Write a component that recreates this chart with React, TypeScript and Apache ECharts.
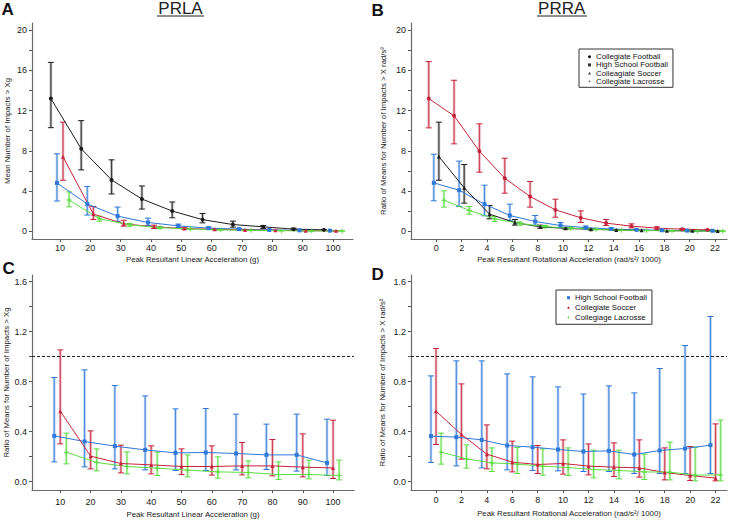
import React, { useEffect, useRef } from 'react';
import * as echarts from 'echarts';

// ---------- categories / tick labels ----------
const LINEAR_X = [10, 20, 30, 40, 50, 60, 70, 80, 90, 100];
const ROT_X = [0, 2, 4, 6, 8, 10, 12, 14, 16, 18, 20, 22];
const COUNT_Y_TICKS = [0, 4, 8, 12, 16, 20];
const COUNT_Y_MINOR = [2, 6, 10, 14, 18];
const RATIO_Y_TICKS = [0, 0.4, 0.8, 1.2, 1.6];
const RATIO_Y_MINOR = [0.2, 0.6, 1.0, 1.4];

// ---------- Panel A (PRLA, mean number of impacts > Xg) ----------
const A_CF_MEAN = [13.2, 8.2, 5.1, 3.2, 2.0, 1.15, 0.66, 0.43, 0.2, 0.13];
const A_CF_LO = [10.3, 6.1, 3.7, 2.2, 1.33, 0.83, 0.4, 0.27, 0.13, 0.09];
const A_CF_HI = [16.8, 11.0, 7.1, 4.5, 2.9, 1.76, 1.0, 0.56, 0.3, 0.18];

const A_HS_MEAN = [4.8, 2.7, 1.5, 0.86, 0.53, 0.3, 0.2, 0.12, 0.08, 0.05];
const A_HS_LO = [3.0, 1.6, 0.96, 0.56, 0.36, 0.2, 0.13, 0.08, 0.05, 0.03];
const A_HS_HI = [7.7, 4.45, 2.4, 1.3, 0.7, 0.42, 0.28, 0.17, 0.11, 0.07];

const A_CS_MEAN = [7.4, 1.7, 0.73, 0.43, 0.27, 0.18, 0.12, 0.08, 0.05, 0.03];
const A_CS_LO = [5.07, 1.16, 0.5, 0.27, 0.18, 0.12, 0.08, 0.05, 0.03, 0.02];
const A_CS_HI = [10.85, 2.45, 1.09, 0.6, 0.38, 0.25, 0.17, 0.11, 0.07, 0.05];

const A_CL_MEAN = [3.1, 1.23, 0.63, 0.35, 0.22, 0.13, 0.09, 0.05, 0.03, 0.02];
const A_CL_LO = [2.42, 1.0, 0.5, 0.27, 0.17, 0.1, 0.06, 0.03, 0.02, 0.01];
const A_CL_HI = [3.91, 1.49, 0.76, 0.44, 0.28, 0.17, 0.12, 0.07, 0.05, 0.03];

// ---------- Panel B (PRRA) ----------
const B_CF_MEAN = [13.2, 11.48, 7.96, 5.27, 3.45, 2.12, 1.33, 0.8, 0.5, 0.3, 0.2, 0.13];
const B_CF_LO = [10.28, 8.69, 5.87, 3.78, 2.39, 1.39, 0.86, 0.56, 0.33, 0.2, 0.15, 0.09];
const B_CF_HI = [16.88, 15.02, 10.68, 7.26, 4.94, 3.18, 2.02, 1.16, 0.73, 0.43, 0.25, 0.17];

const B_HS_MEAN = [4.81, 4.08, 2.69, 1.56, 0.96, 0.56, 0.35, 0.22, 0.13, 0.09, 0.05, 0.04];
const B_HS_LO = [3.02, 2.45, 1.53, 1.03, 0.6, 0.36, 0.22, 0.14, 0.08, 0.06, 0.03, 0.02];
const B_HS_HI = [7.66, 6.97, 4.58, 2.69, 1.56, 0.86, 0.5, 0.32, 0.19, 0.13, 0.08, 0.06];

const B_CS_MEAN = [7.43, 4.31, 1.69, 0.86, 0.42, 0.28, 0.18, 0.12, 0.08, 0.05, 0.03, 0.02];
const B_CS_LO = [5.07, 2.79, 1.23, 0.6, 0.3, 0.2, 0.12, 0.08, 0.05, 0.03, 0.02, 0.01];
const B_CS_HI = [10.85, 6.63, 2.55, 1.16, 0.6, 0.38, 0.25, 0.16, 0.11, 0.07, 0.05, 0.03];

const B_CL_MEAN = [3.08, 2.06, 1.23, 0.76, 0.45, 0.3, 0.18, 0.1, 0.06, 0.04, 0.02, 0.01];
const B_CL_LO = [2.39, 1.69, 0.96, 0.6, 0.35, 0.22, 0.13, 0.07, 0.04, 0.02, 0.01, 0.0];
const B_CL_HI = [4.01, 2.45, 1.46, 0.9, 0.56, 0.38, 0.23, 0.13, 0.08, 0.06, 0.03, 0.02];

// ---------- Panel C (ratio of means, linear) ----------
const C_HS_MEAN = [0.365, 0.32, 0.283, 0.253, 0.229, 0.232, 0.224, 0.213, 0.213, 0.149];
const C_HS_LO = [0.157, 0.117, 0.101, 0.093, 0.088, 0.088, 0.093, 0.096, 0.083, 0.048];
const C_HS_HI = [0.832, 0.893, 0.768, 0.685, 0.581, 0.584, 0.539, 0.459, 0.539, 0.499];

const C_CS_MEAN = [0.563, 0.203, 0.144, 0.133, 0.12, 0.12, 0.125, 0.125, 0.115, 0.109];
const C_CS_LO = [0.301, 0.101, 0.069, 0.061, 0.056, 0.051, 0.053, 0.045, 0.037, 0.024];
const C_CS_HI = [1.053, 0.405, 0.291, 0.285, 0.261, 0.285, 0.312, 0.336, 0.381, 0.491];

const C_CL_MEAN = [0.235, 0.152, 0.12, 0.107, 0.091, 0.077, 0.072, 0.056, 0.056, 0.048];
const C_CL_LO = [0.141, 0.085, 0.061, 0.048, 0.037, 0.027, 0.029, 0.016, 0.021, 0.013];
const C_CL_HI = [0.387, 0.261, 0.237, 0.235, 0.213, 0.197, 0.165, 0.157, 0.171, 0.171];

// ---------- Panel D (ratio of means, rotational) ----------
const D_HS_MEAN = [0.363, 0.355, 0.333, 0.288, 0.275, 0.256, 0.24, 0.245, 0.216, 0.248, 0.264, 0.291];
const D_HS_LO = [0.152, 0.125, 0.109, 0.093, 0.088, 0.085, 0.08, 0.08, 0.064, 0.064, 0.064, 0.064];
const D_HS_HI = [0.845, 0.965, 0.965, 0.861, 0.837, 0.757, 0.7, 0.765, 0.709, 0.904, 1.088, 1.32];

const D_CS_MEAN = [0.563, 0.376, 0.219, 0.155, 0.136, 0.144, 0.123, 0.115, 0.109, 0.072, 0.048, 0.027];
const D_CS_LO = [0.296, 0.179, 0.101, 0.077, 0.064, 0.059, 0.053, 0.04, 0.035, 0.013, 0.008, 0.005];
const D_CS_HI = [1.064, 0.781, 0.453, 0.323, 0.288, 0.333, 0.301, 0.309, 0.333, 0.269, 0.28, 0.461];

const D_CL_MEAN = [0.235, 0.181, 0.149, 0.139, 0.123, 0.112, 0.096, 0.088, 0.077, 0.075, 0.051, 0.053];
const D_CL_LO = [0.139, 0.107, 0.08, 0.064, 0.051, 0.048, 0.029, 0.021, 0.016, 0.013, 0.005, 0.005];
const D_CL_HI = [0.387, 0.293, 0.269, 0.272, 0.261, 0.269, 0.251, 0.251, 0.219, 0.315, 0.275, 0.491];

// ---------- styles ----------
const BLACK = '#1c1c1c';
const BLUE = '#2f78d8';
const RED = '#c5233c';
const GREEN = '#5edc45';
const PLUS = 'path://M2,0H3V2H5V3H3V5H2V3H0V2H2Z';
const SQUARE = 'path://M0,0H1V1H0Z';
const TRI = 'path://M1,0L2,1.8H0Z';
const FONT = '"Liberation Sans", Arial, sans-serif';

function errRender(color: string) {
  return (params: any, api: any) => {
    const x = api.value(0);
    const top = api.coord([x, api.value(2)]);
    const bot = api.coord([x, api.value(1)]);
    const hw = 3;
    return {
      type: 'group',
      children: [
        { type: 'line', shape: { x1: top[0], y1: top[1], x2: bot[0], y2: bot[1] }, style: { stroke: color, lineWidth: 2.6, opacity: 0.35 } },
        { type: 'line', shape: { x1: top[0], y1: top[1], x2: bot[0], y2: bot[1] }, style: { stroke: color, lineWidth: 0.9, opacity: 0.9 } },
        { type: 'line', shape: { x1: top[0] - hw, y1: top[1], x2: top[0] + hw, y2: top[1] }, style: { stroke: color, lineWidth: 1 } },
        { type: 'line', shape: { x1: bot[0] - hw, y1: bot[1], x2: bot[0] + hw, y2: bot[1] }, style: { stroke: color, lineWidth: 1 } },
      ],
    };
  };
}

function makeSeries(
  name: string, color: string, symbol: string, symbolSize: number,
  xs: number[], offset: number, mean: number[], lo: number[], hi: number[], idx: number, extra: any = {}
) {
  const bars = xs.map((x, i) => [x + offset, lo[i], hi[i]]);
  const pts = xs.map((x, i) => [x + offset, mean[i]]);
  return [
    {
      type: 'custom', name: name + ' (CI ' + idx + ')', xAxisIndex: idx, yAxisIndex: idx,
      data: bars, encode: { x: 0, y: [1, 2] }, renderItem: errRender(color), z: 1, silent: true,
    },
    {
      type: 'line', name, xAxisIndex: idx, yAxisIndex: idx, data: pts, symbol, symbolSize,
      showSymbol: true, itemStyle: { color }, lineStyle: { color, width: 1 }, z: 3,
      emphasis: { disabled: true }, ...extra,
    },
  ];
}

const axisLineStyle = { color: '#6a6a6a', width: 1.2 };
const tickStyle = { color: '#555', width: 1 };

function xAxis(g: number, min: number, max: number, ticks: number[], name: string, margin: number, nameGap: number) {
  return {
    type: 'value', gridIndex: g, min, max,
    name, nameLocation: 'middle', nameGap,
    nameTextStyle: { fontSize: 7.8, color: '#222', fontFamily: FONT },
    axisLine: { show: true, onZero: false, lineStyle: axisLineStyle },
    axisTick: { show: true, length: 3, lineStyle: tickStyle, customValues: ticks },
    splitLine: { show: false },
    axisLabel: {
      fontSize: 9, color: '#222', margin, customValues: ticks, fontFamily: FONT,
      formatter: (v: number) => String(Math.round(v)),
    },
  };
}

function yAxis(g: number, min: number, max: number, ticks: number[], minor: number[], digits: number, name: string, nameGap: number) {
  return {
    type: 'value', gridIndex: g, min, max,
    name, nameLocation: 'middle', nameGap,
    nameTextStyle: { fontSize: 7.8, color: '#222', fontFamily: FONT },
    axisLine: { show: true, onZero: false, lineStyle: axisLineStyle },
    axisTick: { show: true, length: 3, lineStyle: tickStyle, customValues: ticks.concat(minor) },
    splitLine: { show: false },
    axisLabel: {
      fontSize: 9, color: '#222', margin: 5, customValues: ticks, fontFamily: FONT,
      formatter: (v: number) => v.toFixed(digits),
    },
  };
}

const refLine = {
  markLine: {
    silent: true, symbol: ['none', 'none'], label: { show: false },
    lineStyle: { type: [3, 2], color: '#222', width: 1 },
    data: [{ yAxis: 1 }],
  },
};

function legendItem(name: string, icon: string, color: string) {
  return { name, icon, itemStyle: { color, borderColor: color, borderWidth: 0 } };
}

export default function App() {
  const ref = useRef<HTMLDivElement>(null);
  useEffect(() => {
    if (!ref.current) return;
    const chart = echarts.init(ref.current, undefined, { renderer: 'svg' });
    const rotName = 'Peak Resultant Rotational Acceleration (rad/s\u00B2/ 1000)';
    const option: any = {
      animation: false,
      backgroundColor: '#ffffff',
      textStyle: { fontFamily: FONT },
      grid: [
        { left: 32, top: 23, width: 321, height: 216 },
        { left: 411, top: 23, width: 316, height: 216 },
        { left: 32, top: 275, width: 322, height: 215 },
        { left: 411, top: 275, width: 316, height: 215 },
      ],
      xAxis: [
        xAxis(0, 0.77, 106.6, LINEAR_X, 'Peak Resultant Linear Acceleration (g)', 4.8, 16.5),
        xAxis(1, -2, 22.94, ROT_X, rotName, 4.8, 16.5),
        xAxis(2, 0.67, 106.9, LINEAR_X, 'Peak Resultant Linear Acceleration (g)', 7, 20),
        xAxis(3, -1.97, 22.9, ROT_X, rotName, 5.3, 19),
      ],
      yAxis: [
        yAxis(0, -0.78, 20.72, COUNT_Y_TICKS, COUNT_Y_MINOR, 0, 'Mean Number of Impacts > Xg', 21),
        yAxis(1, -0.78, 20.72, COUNT_Y_TICKS, COUNT_Y_MINOR, 0, 'Ratio of Means for Number of Impacts > X rad/s\u00B2', 24),
        yAxis(2, -0.068, 1.652, RATIO_Y_TICKS, RATIO_Y_MINOR, 1, 'Ratio of Means for Number of Impacts > Xg', 21),
        yAxis(3, -0.068, 1.652, RATIO_Y_TICKS, RATIO_Y_MINOR, 1, 'Ratio of Means for Number of Impacts > X rad/s\u00B2', 25),
      ],
      legend: [
        {
          orient: 'vertical', left: 579, top: 49, padding: [3.7, 5, 2, 9], itemGap: 0.2,
          itemWidth: 3, itemHeight: 8, borderColor: '#333', borderWidth: 1, backgroundColor: '#fff',
          selectedMode: false, textStyle: { fontSize: 7.8, color: '#111', fontFamily: FONT },
          data: [
            legendItem('Collegiate Football', 'circle', '#111'),
            legendItem('High School Football', SQUARE, '#333'),
            legendItem('Colleagiate Soccer', TRI, '#444'),
            legendItem('Collegiate Lacrosse', PLUS, '#777'),
          ],
        },
        {
          orient: 'vertical', left: 556, top: 290, padding: [3.7, 5, 3, 11], itemGap: 1.8,
          itemWidth: 3, itemHeight: 8, borderColor: '#333', borderWidth: 1, backgroundColor: '#fff',
          selectedMode: false, textStyle: { fontSize: 7.8, color: '#111', fontFamily: FONT },
          data: [
            legendItem('High School Football', SQUARE, BLUE),
            legendItem('Collegiate Soccer', TRI, RED),
            legendItem('Collegiage Lacrosse', PLUS, GREEN),
          ],
        },
      ],
      graphic: [
        { type: 'text', left: 1.5, top: 1, style: { text: 'A', fill: '#111', font: 'bold 17px ' + FONT } },
        { type: 'text', left: 371.5, top: 1.5, style: { text: 'B', fill: '#111', font: 'bold 17px ' + FONT } },
        { type: 'text', left: 2.5, top: 260, style: { text: 'C', fill: '#111', font: 'bold 17px ' + FONT } },
        { type: 'text', left: 371.5, top: 265.5, style: { text: 'D', fill: '#111', font: 'bold 17px ' + FONT } },
        { type: 'text', x: 180.5, y: 0, style: { text: 'PRLA', fill: '#222', font: '17px ' + FONT, textAlign: 'center', textVerticalAlign: 'top' } },
        { type: 'line', shape: { x1: 157, y1: 16, x2: 204, y2: 16 }, style: { stroke: '#222', lineWidth: 1.2 } },
        { type: 'text', x: 561.7, y: 0, style: { text: 'PRRA', fill: '#222', font: '17px ' + FONT, textAlign: 'center', textVerticalAlign: 'top' } },
        { type: 'line', shape: { x1: 537, y1: 16, x2: 587, y2: 16 }, style: { stroke: '#222', lineWidth: 1.2 } },
      ],
      series: [
        // Panel A
        ...makeSeries('Collegiate Football', BLACK, 'circle', 4, LINEAR_X, -3, A_CF_MEAN, A_CF_LO, A_CF_HI, 0),
        ...makeSeries('High School Football', BLUE, 'rect', 4, LINEAR_X, -1, A_HS_MEAN, A_HS_LO, A_HS_HI, 0),
        ...makeSeries('Colleagiate Soccer', RED, 'triangle', 4, LINEAR_X, 1, A_CS_MEAN, A_CS_LO, A_CS_HI, 0),
        ...makeSeries('Collegiate Lacrosse', GREEN, PLUS, 5, LINEAR_X, 3, A_CL_MEAN, A_CL_LO, A_CL_HI, 0),
        // Panel B
        ...makeSeries('Collegiate Football', RED, 'circle', 4, ROT_X, -0.6, B_CF_MEAN, B_CF_LO, B_CF_HI, 1),
        ...makeSeries('High School Football', BLUE, 'rect', 4, ROT_X, -0.2, B_HS_MEAN, B_HS_LO, B_HS_HI, 1),
        ...makeSeries('Colleagiate Soccer', BLACK, 'triangle', 4, ROT_X, 0.2, B_CS_MEAN, B_CS_LO, B_CS_HI, 1),
        ...makeSeries('Collegiate Lacrosse', GREEN, PLUS, 5, ROT_X, 0.6, B_CL_MEAN, B_CL_LO, B_CL_HI, 1),
        // Panel C
        ...makeSeries('High School Football', BLUE, 'rect', 4, LINEAR_X, -2, C_HS_MEAN, C_HS_LO, C_HS_HI, 2, refLine),
        ...makeSeries('Collegiate Soccer', RED, 'triangle', 4, LINEAR_X, 0, C_CS_MEAN, C_CS_LO, C_CS_HI, 2),
        ...makeSeries('Collegiage Lacrosse', GREEN, PLUS, 5, LINEAR_X, 2, C_CL_MEAN, C_CL_LO, C_CL_HI, 2),
        // Panel D
        ...makeSeries('High School Football', BLUE, 'rect', 4, ROT_X, -0.4, D_HS_MEAN, D_HS_LO, D_HS_HI, 3, refLine),
        ...makeSeries('Collegiate Soccer', RED, 'triangle', 4, ROT_X, 0, D_CS_MEAN, D_CS_LO, D_CS_HI, 3),
        ...makeSeries('Collegiage Lacrosse', GREEN, PLUS, 5, ROT_X, 0.4, D_CL_MEAN, D_CL_LO, D_CL_HI, 3),
      ],
    };
    chart.setOption(option);
    return () => chart.dispose();
  }, []);
  return <div ref={ref} style={{ position: 'fixed', left: 0, top: 0, width: 741, height: 521, background: '#fff' }} />;
}
